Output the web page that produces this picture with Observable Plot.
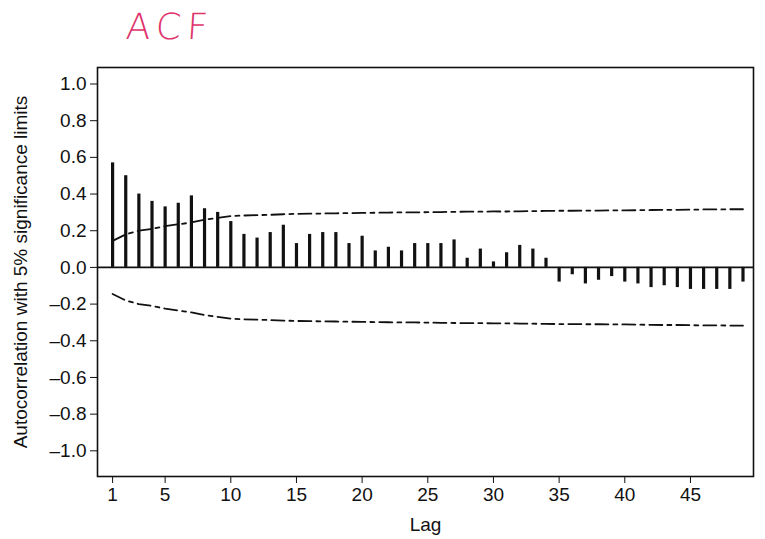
<!DOCTYPE html>
<html>
<head>
<meta charset="utf-8">
<script src="https://cdn.jsdelivr.net/npm/d3@7"></script>
<script src="https://cdn.jsdelivr.net/npm/@observablehq/plot@0.6"></script>
<style>
  html, body { margin: 0; padding: 0; background: #fff; }
  #wrap { position: relative; width: 765px; height: 539px; }
  #title { position: absolute; left: 126px; top: 6px; color: #e0336b; font-family: "DejaVu Sans", sans-serif; font-size: 36px; font-weight: 300; letter-spacing: 6px; transform: skewX(-4deg); }
</style>
</head>
<body>
<div id="wrap"><div id="title">ACF</div></div>
<script>
const lags = [1,2,3,4,5,6,7,8,9,10,11,12,13,14,15,16,17,18,19,20,21,22,23,24,25,26,27,28,29,30,31,32,33,34,35,36,37,38,39,40,41,42,43,44,45,46,47,48,49];
const acfValues = [0.57,0.50,0.40,0.36,0.33,0.35,0.39,0.32,0.30,0.25,0.18,0.16,0.19,0.23,0.13,0.18,0.19,0.19,0.13,0.17,0.09,0.11,0.09,0.13,0.13,0.13,0.15,0.05,0.10,0.03,0.08,0.12,0.10,0.05,-0.08,-0.04,-0.09,-0.07,-0.05,-0.08,-0.09,-0.11,-0.10,-0.11,-0.12,-0.12,-0.12,-0.12,-0.08];
const limitValues = [0.145,0.18,0.20,0.21,0.225,0.235,0.245,0.26,0.27,0.28,0.283,0.285,0.287,0.29,0.292,0.293,0.294,0.295,0.296,0.297,0.298,0.299,0.30,0.30,0.301,0.302,0.303,0.304,0.304,0.305,0.305,0.306,0.307,0.308,0.309,0.309,0.31,0.31,0.311,0.311,0.312,0.313,0.314,0.314,0.315,0.316,0.316,0.317,0.317];
const xTicks = [1,5,10,15,20,25,30,35,40,45];
const yTicks = [1.0,0.8,0.6,0.4,0.2,0.0,-0.2,-0.4,-0.6,-0.8,-1.0];

const acf = lags.map((lag, i) => ({lag, r: acfValues[i]}));
const limits = lags.map((lag, i) => ({lag, upper: limitValues[i], lower: -limitValues[i]}));

const chart = Plot.plot({
  width: 765,
  height: 539,
  marginLeft: 97,
  marginRight: 12,
  marginTop: 67,
  marginBottom: 63,
  style: {fontFamily: "'Liberation Sans', Arial, sans-serif", fontSize: "19px", color: "#111", background: "transparent"},
  x: {domain: [-0.15, 49.8]},
  y: {domain: [-1.14, 1.09]},
  marks: [
    Plot.frame({stroke: "#111", strokeWidth: 1.6}),
    Plot.ruleY([0], {stroke: "#111", strokeWidth: 1.6}),
    Plot.ruleX(acf, {x: "lag", y1: 0, y2: "r", stroke: "#111", strokeWidth: 3.2}),
    Plot.line(limits, {x: "lag", y: "upper", stroke: "#111", strokeWidth: 1.8, strokeDasharray: "13,5,4,5"}),
    Plot.line(limits, {x: "lag", y: "lower", stroke: "#111", strokeWidth: 1.8, strokeDasharray: "13,5,4,5"}),
    Plot.axisX({ticks: xTicks, tickSize: 7, tickPadding: 4, tickFormat: d => String(d), label: "Lag", labelAnchor: "center", labelArrow: "none", labelOffset: 54}),
    Plot.axisY({ticks: yTicks, tickSize: 7, tickPadding: 4, tickFormat: d => d.toFixed(1).replace("-", "\u2013"), label: "Autocorrelation with 5% significance limits", labelAnchor: "center", labelArrow: "none", labelOffset: 84})
  ]
});
document.getElementById("wrap").prepend(chart);
</script>
</body>
</html>
